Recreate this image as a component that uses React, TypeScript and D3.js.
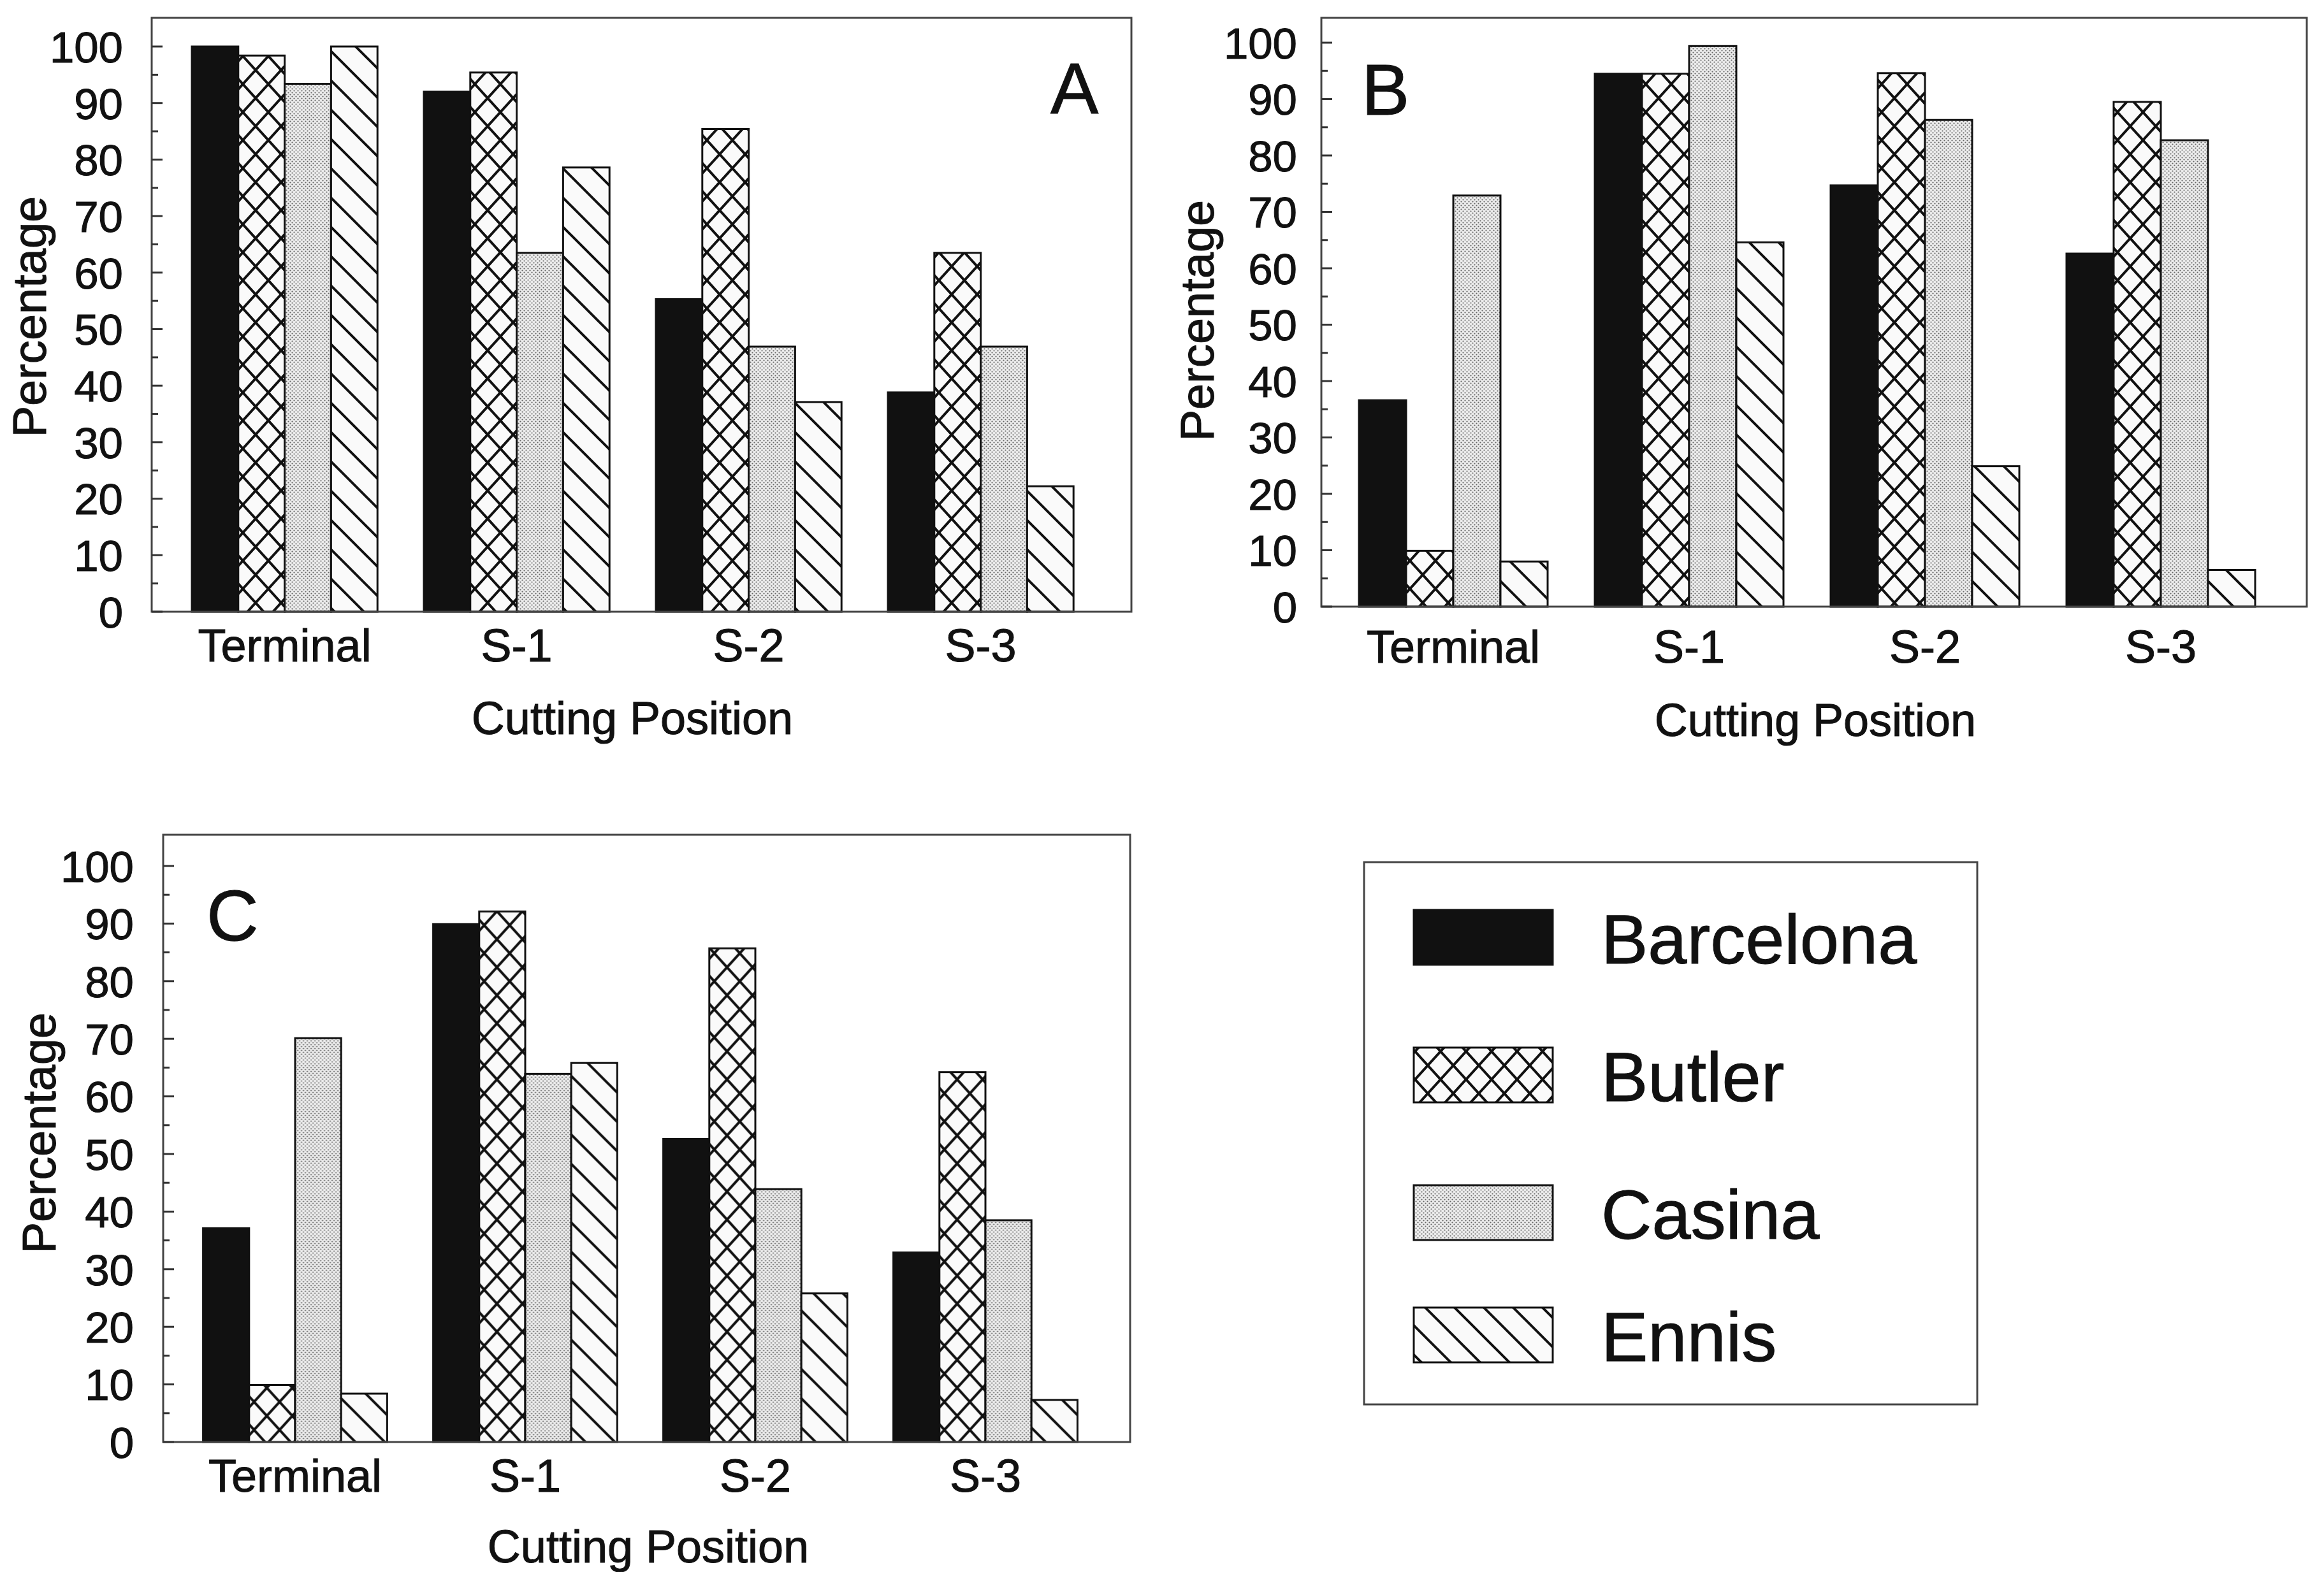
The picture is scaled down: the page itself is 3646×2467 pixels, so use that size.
import React from "react";
import * as d3 from "d3";

const categories = ["Terminal", "S-1", "S-2", "S-3"];
const seriesNames = ["Barcelona", "Butler", "Casina", "Ennis"];

const aBarcelona = [100, 92, 55.3, 38.8];
const aButler = [98.4, 95.4, 85.4, 63.5];
const aCasina = [93.4, 63.5, 46.9, 46.9];
const aEnnis = [100, 78.6, 37.1, 22.2];

const bBarcelona = [36.6, 94.5, 74.7, 62.6];
const bButler = [9.9, 94.5, 94.6, 89.5];
const bCasina = [72.9, 99.4, 86.3, 82.7];
const bEnnis = [8.0, 64.6, 24.9, 6.5];

const cBarcelona = [37.1, 89.9, 52.6, 32.9];
const cButler = [9.9, 92.1, 85.7, 64.2];
const cCasina = [70.1, 63.9, 43.9, 38.5];
const cEnnis = [8.4, 65.8, 25.8, 7.3];

const panelLetters = ["A", "B", "C"];
const yDomain = [0, 100];

const W = 3646;
const H = 2467;
const FONT = "'Liberation Sans', Arial, Helvetica, sans-serif";
const INK = "#111";

const fills = ["#111", "url(#pat-cross)", "url(#pat-dots)", "url(#pat-diag)"];

function diagLines(w: number, h: number, dir: "back" | "fwd") {
  const parts: string[] = [];
  for (const k of [-1, 0, 1]) {
    if (dir === "back") {
      parts.push(`M${-w},${-h + k * h}L${2 * w},${2 * h + k * h}`);
    } else {
      parts.push(`M${-w},${2 * h + k * h}L${2 * w},${-h + k * h}`);
    }
  }
  return parts.join(" ");
}

type PanelProps = {
  letter: string;
  data: number[][];
  frame: { x0: number; x1: number; y0: number; y1: number };
  yTop: number;
  bandRange: [number, number];
  tickRight: number;
  catBaseline: number;
  xTitle: { x: number; y: number };
  yTitle: { x: number; y: number };
  letterPos: { x: number; y: number; anchor: string };
};

function Panel(p: PanelProps) {
  const y = d3.scaleLinear().domain(yDomain).range([p.frame.y1, p.yTop]);
  const x = d3
    .scaleBand<string>()
    .domain(categories)
    .range(p.bandRange)
    .paddingInner(0.2)
    .paddingOuter(0.1);
  const xs = d3.scaleBand<string>().domain(seriesNames).range([0, x.bandwidth()]).padding(0);
  const majors = y.ticks(10);
  const minors = d3.range(yDomain[0], yDomain[1] + 1, 5);
  return (
    <g>
      {/* bars */}
      {categories.map((c, ci) => (
        <g key={c} transform={`translate(${x(c)},0)`}>
          {seriesNames.map((s, si) => {
            const v = p.data[si][ci];
            return (
              <rect
                key={s}
                x={xs(s)}
                y={y(v)}
                width={xs.bandwidth()}
                height={y(0) - y(v)}
                fill={fills[si]}
                stroke={INK}
                strokeWidth={3}
              />
            );
          })}
        </g>
      ))}
      {/* frame */}
      <rect
        x={p.frame.x0}
        y={p.frame.y0}
        width={p.frame.x1 - p.frame.x0}
        height={p.frame.y1 - p.frame.y0}
        fill="none"
        stroke="#444"
        strokeWidth={3}
      />
      {/* inward ticks */}
      {minors.map((t) => (
        <line
          key={"m" + t}
          x1={p.frame.x0}
          x2={p.frame.x0 + (t % 10 === 0 ? 17 : 10)}
          y1={y(t)}
          y2={y(t)}
          stroke="#333"
          strokeWidth={3}
        />
      ))}
      {/* tick labels */}
      {majors.map((t) => (
        <text
          key={"t" + t}
          x={p.tickRight}
          y={y(t)}
          dy="0.36em"
          textAnchor="end"
          fontSize={69}
          fontFamily={FONT}
          fill={INK}
          stroke={INK}
          strokeWidth={1}
        >
          {t}
        </text>
      ))}
      {/* category labels */}
      {categories.map((c) => (
        <text
          key={"c" + c}
          x={(x(c) as number) + x.bandwidth() / 2}
          y={p.catBaseline}
          textAnchor="middle"
          fontSize={72}
          fontFamily={FONT}
          fill={INK}
          stroke={INK}
          strokeWidth={1}
        >
          {c}
        </text>
      ))}
      <text
        x={p.xTitle.x}
        y={p.xTitle.y}
        textAnchor="middle"
        fontSize={72}
        fontFamily={FONT}
        fill={INK}
        stroke={INK}
        strokeWidth={1}
      >
        Cutting Position
      </text>
      <text
        transform={`translate(${p.yTitle.x},${p.yTitle.y}) rotate(-90)`}
        textAnchor="middle"
        fontSize={74}
        fontFamily={FONT}
        fill={INK}
        stroke={INK}
        strokeWidth={1}
      >
        Percentage
      </text>
      <text
        x={p.letterPos.x}
        y={p.letterPos.y}
        textAnchor={p.letterPos.anchor as any}
        fontSize={113}
        fontFamily={FONT}
        fill={INK}
        stroke={INK}
        strokeWidth={1}
      >
        {p.letter}
      </text>
    </g>
  );
}

function Legend() {
  const frame = { x0: 2140, x1: 3102, y0: 1353, y1: 2204 };
  const rowTops = [1428, 1644, 1860, 2052];
  const swatchX = 2218;
  const swatchW = 218;
  const swatchH = 86;
  return (
    <g>
      <rect
        x={frame.x0}
        y={frame.y0}
        width={frame.x1 - frame.x0}
        height={frame.y1 - frame.y0}
        fill="none"
        stroke="#444"
        strokeWidth={3}
      />
      {seriesNames.map((s, i) => (
        <g key={s}>
          <rect
            x={swatchX}
            y={rowTops[i]}
            width={swatchW}
            height={swatchH}
            fill={fills[i]}
            stroke={INK}
            strokeWidth={3}
          />
          <text
            x={2512}
            y={rowTops[i] + swatchH - 2}
            fontSize={110}
            fontFamily={FONT}
            fill={INK}
            stroke={INK}
            strokeWidth={1}
          >
            {s}
          </text>
        </g>
      ))}
    </g>
  );
}

export default function App() {
  const crossW = 40;
  const crossH = 44;
  const diagW = 46;
  const diagH = 46;
  const panels: PanelProps[] = [
    {
      letter: panelLetters[0],
      data: [aBarcelona, aButler, aCasina, aEnnis],
      frame: { x0: 238, x1: 1775, y0: 28, y1: 960 },
      yTop: 73,
      bandRange: [264.6, 1720.6],
      tickRight: 193,
      catBaseline: 1038,
      xTitle: { x: 992, y: 1152 },
      yTitle: { x: 72, y: 497 },
      letterPos: { x: 1648, y: 178, anchor: "start" },
    },
    {
      letter: panelLetters[1],
      data: [bBarcelona, bButler, bCasina, bEnnis],
      frame: { x0: 2073, x1: 3619, y0: 28, y1: 952 },
      yTop: 67,
      bandRange: [2095, 3575],
      tickRight: 2035,
      catBaseline: 1040,
      xTitle: { x: 2848, y: 1155 },
      yTitle: { x: 1904, y: 503 },
      letterPos: { x: 2136, y: 180, anchor: "start" },
    },
    {
      letter: panelLetters[2],
      data: [cBarcelona, cButler, cCasina, cEnnis],
      frame: { x0: 256, x1: 1773, y0: 1310, y1: 2263 },
      yTop: 1359,
      bandRange: [282.5, 1726.5],
      tickRight: 210,
      catBaseline: 2341,
      xTitle: { x: 1017, y: 2452 },
      yTitle: { x: 87, y: 1778 },
      letterPos: { x: 324, y: 1476, anchor: "start" },
    },
  ];
  return (
    <svg
      width={W}
      height={H}
      viewBox={`0 0 ${W} ${H}`}
      style={{ position: "absolute", left: 0, top: 0, display: "block", background: "#fff" }}
    >
      <defs>
        <pattern id="pat-cross" patternUnits="userSpaceOnUse" width={crossW} height={crossH}>
          <rect width={crossW} height={crossH} fill="#fafafa" />
          <path d={diagLines(crossW, crossH, "back")} stroke={INK} strokeWidth={4} fill="none" />
          <path d={diagLines(crossW, crossH, "fwd")} stroke={INK} strokeWidth={4} fill="none" />
        </pattern>
        <pattern id="pat-dots" patternUnits="userSpaceOnUse" width={6} height={6}>
          <rect width={6} height={6} fill="#ececec" />
          <circle cx={1.5} cy={1.5} r={1.1} fill="#666" />
          <circle cx={4.5} cy={4.5} r={1.1} fill="#666" />
        </pattern>
        <pattern id="pat-diag" patternUnits="userSpaceOnUse" width={diagW} height={diagH}>
          <rect width={diagW} height={diagH} fill="#fafafa" />
          <path d={diagLines(diagW, diagH, "back")} stroke={INK} strokeWidth={4} fill="none" />
        </pattern>
      </defs>
      <rect width={W} height={H} fill="#fff" />
      {panels.map((p) => (
        <Panel key={p.letter} {...p} />
      ))}
      <Legend />
    </svg>
  );
}
